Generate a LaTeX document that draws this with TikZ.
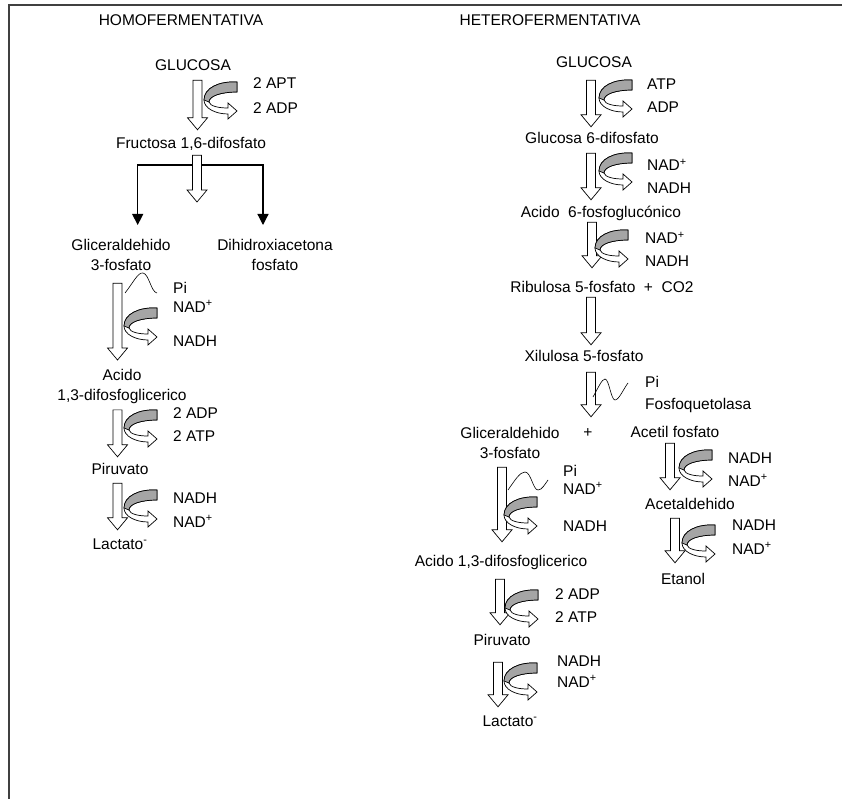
\documentclass[tikz,border=0pt]{standalone}
\usepackage{fontspec}
\setmainfont{Liberation Sans}
\usetikzlibrary{arrows.meta,calc}
\definecolor{framegray}{RGB}{64,64,64}
\definecolor{bandgray}{RGB}{165,165,165}

% hollow block arrow pointing down, x taken from the start point
\newcommand{\blockdown}[2]{%
  \draw[blockarrow] let \p1=(#1), \p2=(#2) in
    (\x1-4.5pt,\y1) -- (\x1+4.5pt,\y1) -- (\x1+4.5pt,\y2+12pt)
    -- (\x1+10pt,\y2+12pt) -- (\x1,\y2) -- (\x1-10pt,\y2+12pt)
    -- (\x1-4.5pt,\y2+12pt) -- cycle;}

\tikzset{
  cofactor/.pic={
    \draw[line width=0.7pt, fill=white]
      (0,0) .. controls (-18,-1) and (-33,6) .. (-33,18)
      .. controls (-33,26) and (-22,32) .. (-9,32)
      -- (-9,37) -- (0,29) -- (-9,21) -- (-9,26)
      .. controls (-19,26) and (-27,24) .. (-28,20)
      .. controls (-28,14) and (-16,10) .. (0,10) -- cycle;
    \draw[line width=0.7pt, fill=bandgray]
      (0,0) .. controls (-18,-1) and (-33,6) .. (-33,18)
      -- (-28,20) .. controls (-28,14) and (-16,10) .. (0,10) -- cycle;
  }
}

\begin{document}
\begin{tikzpicture}[x=1pt, y=-1pt,
    every node/.style={font=\fontsize{15.5}{20}\selectfont, inner sep=0pt},
    lbl/.style={text height=11pt, text depth=3pt},
    blockarrow/.style={draw=black, fill=white, line width=0.7pt},
    branch/.style={line width=1.2pt, -{Triangle[width=11pt,length=11pt]}},
    wave/.style={line width=0.6pt},
    frameline/.style={framegray, line width=1.5pt}]
  \useasboundingbox (0,0) rectangle (842,799);
  \draw[frameline] (9,799) -- (9,5) -- (842,5);

  % homofermentativa
  \node[lbl] (homoT) at (181,22) {HOMOFERMENTATIVA};
  \node[lbl] (glcL) at (193,67) {GLUCOSA};
  \node[lbl] (fruL) at (191,145) {Fructosa 1,6-difosfato};
  \node[anchor=north, align=center] (g3pL) at (121,239) {Gliceraldehido\\3-fosfato};
  \node[anchor=north, align=center] (dhapL) at (275,239) {Dihidroxiacetona\\fosfato};
  \node[anchor=north, align=center] (bpgL) at (122,369) {Acido\\1,3-difosfoglicerico};
  \node[lbl] (pirL) at (120,470) {Piruvato};
  \node[lbl] (lacL) at (120,545) {Lactato\textsuperscript{-}};

  \coordinate (brL) at (197,165);
  \draw[branch] (brL) -| ([xshift=16.7pt,yshift=14pt]g3pL.north);
  \draw[branch] (brL) -| ([xshift=-12pt,yshift=14pt]dhapL.north);

  \blockdown{[xshift=4.5pt,yshift=-6pt]glcL.south}{[yshift=8pt]fruL.north}
  \blockdown{[xshift=6pt,yshift=-3pt]fruL.south}{[yshift=-37pt]brL}
  \blockdown{[xshift=-3.5pt,yshift=-12.4pt]g3pL.south}{[yshift=9pt]bpgL.north}
  \blockdown{[xshift=-4.5pt,yshift=-6pt]bpgL.south}{[yshift=6pt]pirL.north}
  \blockdown{[xshift=-2.5pt,yshift=-6pt]pirL.south}{[yshift=8pt]lacL.north}

  \pic at (237,82) {cofactor};
  \pic at (157,308) {cofactor};
  \pic at (157,410) {cofactor};
  \pic at (157,490) {cofactor};
  \draw[wave] (125,293) .. controls (133,283) and (138,272) .. (143,273)
    .. controls (149,274) and (151,292) .. (157,293);

  \node[lbl, anchor=west] (apt1L) at (253,85) {2 APT};
  \node[lbl, anchor=west] (adp1L) at (253,110) {2 ADP};
  \node[lbl, anchor=west] (piL) at (173,290) {Pi};
  \node[lbl, anchor=west] (nad1L) at (173,308) {NAD\textsuperscript{+}};
  \node[lbl, anchor=west] (nadh1L) at (173,342) {NADH};
  \node[lbl, anchor=west] (adp2L) at (173,414) {2 ADP};
  \node[lbl, anchor=west] (atp2L) at (173,437) {2 ATP};
  \node[lbl, anchor=west] (nadh2L) at (173,499) {NADH};
  \node[lbl, anchor=west] (nad2L) at (173,523) {NAD\textsuperscript{+}};

  % heterofermentativa
  \node[lbl] (heteroT) at (550,22) {HETEROFERMENTATIVA};
  \node[lbl] (glcR) at (594,64) {GLUCOSA};
  \node[lbl] (g6pR) at (592,140) {Glucosa 6-difosfato};
  \node[lbl] (pgR) at (601,214) {Acido~~6-fosfoglucónico};
  \node[lbl] (ru5pR) at (602,288) {Ribulosa 5-fosfato~~+~~CO2};
  \node[lbl] (xu5pR) at (584,357) {Xilulosa 5-fosfato};
  \node[anchor=north, align=center] (g3pR) at (510,427) {Gliceraldehido\\3-fosfato};
  \node[lbl] (plusR) at (588,433) {+};
  \node[lbl] (acpR) at (675,433) {Acetil fosfato};
  \node[lbl] (bpgR) at (501,562) {Acido 1,3-difosfoglicerico};
  \node[lbl] (pirR) at (502,641) {Piruvato};
  \node[lbl] (lacR) at (510,722) {Lactato\textsuperscript{-}};
  \node[lbl] (acaR) at (690,505) {Acetaldehido};
  \node[lbl] (etoR) at (683,580) {Etanol};

  \blockdown{[xshift=-3pt,yshift=-9pt]glcR.south}{[yshift=6pt]g6pR.north}
  \blockdown{[xshift=-1pt,yshift=-6pt]g6pR.south}{[yshift=7pt]pgR.north}
  \blockdown{[xshift=-9pt,yshift=-1pt]pgR.south}{[yshift=13pt]ru5pR.north}
  \blockdown{[xshift=-11pt,yshift=-2pt]ru5pR.south}{[yshift=5pt]xu5pR.north}
  \blockdown{[xshift=7pt,yshift=-8pt]xu5pR.south}{[yshift=9pt]plusR.north}
  \blockdown{[xshift=-8pt,yshift=-8.4pt]g3pR.south}{[yshift=13pt]bpgR.north}
  \blockdown{[xshift=-1pt,yshift=-10pt]bpgR.south}{[yshift=9pt]pirR.north}
  \blockdown{[xshift=-4pt,yshift=-14pt]pirR.south}{[yshift=8pt]lacR.north}
  \blockdown{[xshift=-5pt,yshift=-3pt]acpR.south}{[yshift=8pt]acaR.north}
  \blockdown{[xshift=-15pt,yshift=-6pt]acaR.south}{[yshift=10pt]etoR.north}

  \pic at (632,80) {cofactor};
  \pic at (632,153) {cofactor};
  \pic at (628,230) {cofactor};
  \pic at (537,497) {cofactor};
  \pic at (538,590) {cofactor};
  \pic at (537,663) {cofactor};
  \pic at (712,450) {cofactor};
  \pic at (715,525) {cofactor};
  \draw[wave] (593,397) .. controls (598,388) and (602,379) .. (605,379)
    .. controls (609,379) and (611,400) .. (615,400)
    .. controls (619,400) and (624,388) .. (628,383);
  \draw[wave] (508,490) .. controls (515,480) and (520,472) .. (525,472)
    .. controls (531,472) and (533,490) .. (538,490)
    .. controls (542,490) and (545,484) .. (548,480);

  \node[lbl, anchor=west] (atp1R) at (647,86) {ATP};
  \node[lbl, anchor=west] (adp1R) at (647,109) {ADP};
  \node[lbl, anchor=west] (nad1R) at (647,167) {NAD\textsuperscript{+}};
  \node[lbl, anchor=west] (nadh1R) at (647,190) {NADH};
  \node[lbl, anchor=west] (nad2R) at (645,240) {NAD\textsuperscript{+}};
  \node[lbl, anchor=west] (nadh2R) at (645,262) {NADH};
  \node[lbl, anchor=west] (pi1R) at (645,383) {Pi};
  \node[lbl, anchor=west] (fqlR) at (645,405) {Fosfoquetolasa};
  \node[lbl, anchor=west] (pi2R) at (563,472) {Pi};
  \node[lbl, anchor=west] (nad3R) at (563,490) {NAD\textsuperscript{+}};
  \node[lbl, anchor=west] (nadh3R) at (563,527) {NADH};
  \node[lbl, anchor=west] (adp2R) at (555,595) {2 ADP};
  \node[lbl, anchor=west] (atp2R) at (555,618) {2 ATP};
  \node[lbl, anchor=west] (nadh4R) at (557,662) {NADH};
  \node[lbl, anchor=west] (nad4R) at (557,683) {NAD\textsuperscript{+}};
  \node[lbl, anchor=west] (nadh5R) at (728,459) {NADH};
  \node[lbl, anchor=west] (nad5R) at (728,482) {NAD\textsuperscript{+}};
  \node[lbl, anchor=west] (nadh6R) at (732,526) {NADH};
  \node[lbl, anchor=west] (nad6R) at (732,550) {NAD\textsuperscript{+}};
\end{tikzpicture}
\end{document}
